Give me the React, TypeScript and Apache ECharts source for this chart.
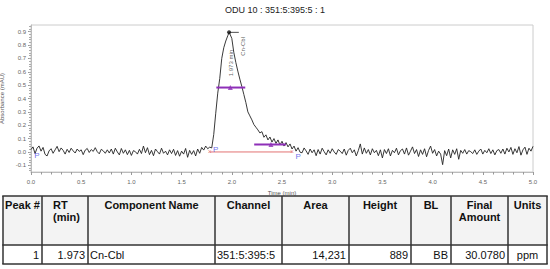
import React, { useEffect, useRef } from "react";
import * as echarts from "echarts";

// ---------- DATA ----------
const TITLE = "ODU 10 : 351:5:395:5 : 1";
const STEP = 0.02; // minutes between samples, starting at 0.0
const signal: number[] = [
  // 0.00 - 0.18
  0.018, 0.038, -0.012, 0.028, 0.045, 0.006, 0.034, -0.018, -0.03, 0.008,
  // 0.20 - 0.38
  0.024, -0.01, 0.016, 0.042, 0.002, 0.03, 0.012, -0.016, 0.02, -0.004,
  // 0.40 - 0.58
  0.028, 0.008, -0.008, 0.022, 0.004, 0.016, -0.02, 0.014, 0.026, -0.004,
  // 0.60 - 0.78
  0.018, 0.004, 0.032, 0.002, -0.014, 0.02, 0.008, -0.01, 0.016, -0.008,
  // 0.80 - 0.98
  0.022, -0.016, 0.028, 0.0, -0.022, 0.026, -0.01, 0.016, -0.02, 0.012,
  // 1.00 - 1.18
  -0.026, 0.01, 0.002, -0.016, 0.02, -0.012, 0.044, -0.006, 0.032, -0.02,
  // 1.20 - 1.38
  0.012, -0.028, 0.022, 0.002, -0.016, 0.028, -0.01, 0.006, -0.022, 0.016,
  // 1.40 - 1.58
  -0.012, 0.02, -0.026, 0.01, -0.032, 0.006, -0.016, 0.026, -0.04, 0.012,
  // 1.60 - 1.78
  -0.018, 0.01, -0.03, 0.022, -0.01, 0.034, 0.014, 0.044, 0.024, 0.036,
  // 1.80 - 1.98 (peak rise)
  0.03, 0.13, 0.29, 0.44, 0.55, 0.7, 0.78, 0.83, 0.87, 0.885,
  // 2.00 - 2.18
  0.85, 0.745, 0.67, 0.605, 0.545, 0.49, 0.43, 0.37, 0.3, 0.27,
  // 2.20 - 2.38
  0.24, 0.205, 0.185, 0.165, 0.142, 0.152, 0.11, 0.128, 0.09, 0.112,
  // 2.40 - 2.58
  0.074, 0.1, 0.064, 0.09, 0.052, 0.08, 0.044, 0.07, 0.038, 0.06,
  // 2.60 - 2.68
  0.022, 0.044, 0.006, 0.032, -0.002,
  // 2.70 - 2.88
  -0.006, 0.03, 0.008, -0.018, 0.022, -0.006, 0.016, -0.028, 0.018, -0.016,
  // 2.90 - 3.08
  0.028, 0.002, -0.022, 0.016, -0.01, 0.024, 0.0, -0.018, 0.018, 0.006,
  // 3.10 - 3.28
  -0.012, 0.022, -0.024, 0.012, 0.028, -0.006, 0.016, -0.03, 0.01, 0.06,
  // 3.30 - 3.48
  -0.016, 0.03, -0.01, 0.018, -0.022, 0.024, -0.006, 0.012, -0.028, 0.016,
  // 3.50 - 3.68
  -0.045, 0.018, -0.012, 0.024, -0.03, 0.012, -0.006, 0.028, -0.022, 0.01,
  // 3.70 - 3.88
  0.022, -0.016, 0.03, -0.024, 0.006, 0.038, -0.012, 0.018, -0.034, 0.016,
  // 3.90 - 4.08
  -0.018, 0.024, -0.036, 0.012, 0.044, -0.01, 0.018, -0.03, 0.006, -0.016,
  // 4.10 - 4.28
  -0.095, 0.01, -0.028, 0.022, -0.045, 0.016, -0.018, 0.024, -0.055, 0.012,
  // 4.30 - 4.48
  -0.01, 0.018, -0.016, 0.01, 0.002, -0.012, 0.016, -0.018, 0.006, 0.022,
  // 4.50 - 4.68
  -0.016, 0.012, -0.006, 0.024, -0.012, 0.016, -0.022, 0.01, 0.018, -0.01,
  // 4.70 - 4.88
  0.022, -0.016, 0.028, 0.0, 0.034, -0.018, 0.024, -0.006, 0.04, -0.024,
  // 4.90 - 5.00
  0.016, 0.036, -0.018, 0.028, 0.006, 0.042,
];
const apex: [number, number] = [1.973, 0.895];
const apexTick: [number, number][] = [[1.973, 0.895], [2.07, 0.895]];
const halfBar: [number, number][] = [[1.846, 0.482], [2.134, 0.482]];
const lowBar: [number, number][] = [[2.223, 0.056], [2.54, 0.056]];
const barMarks: [number, number][] = [[1.985, 0.482], [2.39, 0.056]];
const baseline: [number, number][] = [[1.78, 0.0], [2.6, 0.0]];
const pMarks: [number, number][] = [[0.06, -0.03], [1.84, 0.02], [2.66, -0.032]];
const xMarks: [number, number][] = [[1.78, 0.0], [2.6, 0.0]];
const rtLabelPos: [number, number] = [1.995, 0.665];
const nameLabelPos: [number, number] = [2.11, 0.79];
const rtLabel = "1.973 min";
const compLabel = "Cn-Cbl";

const yTickLabels = [-0.1, 0.0, 0.1, 0.2, 0.3, 0.4, 0.5, 0.6, 0.7, 0.8, 0.9];
const Y_MIN = -0.15;
const Y_MAX = 0.95;

const tableHeaders: string[][] = [
  ["Peak #"], ["RT", "(min)"], ["Component Name"], ["Channel"], ["Area"],
  ["Height"], ["BL"], ["Final", "Amount"], ["Units"],
];
const tableRow = ["1", "1.973", "Cn-Cbl", "351:5:395:5", "14,231", "889", "BB", "30.0780", "ppm"];

// ---------- LAYOUT ----------
const FONT = "'Liberation Sans', Arial, Helvetica, sans-serif";
const colX = [3, 42, 88, 215, 282, 349, 411, 451, 508, 547];
const rowY = [196, 245, 264];
const dataAlign = ["right", "right", "left", "left", "right", "right", "right", "right", "center"];

function buildTable(): any[] {
  const els: any[] = [];
  els.push({ type: "rect", shape: { x: colX[0], y: rowY[0], width: colX[9] - colX[0], height: rowY[1] - rowY[0] }, style: { fill: "#f3f3f3" }, z: 1 });
  els.push({ type: "rect", shape: { x: colX[0], y: rowY[1], width: colX[9] - colX[0], height: rowY[2] - rowY[1] }, style: { fill: "#ffffff" }, z: 1 });
  rowY.forEach((y) => {
    els.push({ type: "line", shape: { x1: colX[0] - 0.75, y1: y, x2: colX[9] + 0.75, y2: y }, style: { stroke: "#333", lineWidth: 1.5 }, z: 3 });
  });
  colX.forEach((x) => {
    els.push({ type: "line", shape: { x1: x, y1: rowY[0], x2: x, y2: rowY[2] }, style: { stroke: "#333", lineWidth: 1.5 }, z: 3 });
  });
  tableHeaders.forEach((lines, i) => {
    const left = colX[i];
    const right = colX[i + 1];
    lines.forEach((t, j) => {
      const isRT = i === 1;
      els.push({
        type: "text",
        z: 4,
        style: {
          text: t,
          x: isRT ? left + 11 : (left + right) / 2,
          y: 205 + j * 12.3,
          fontSize: 11,
          fontWeight: "bold",
          fontFamily: FONT,
          fill: "#111",
          align: isRT ? "left" : "center",
          verticalAlign: "middle",
        },
      });
    });
  });
  tableRow.forEach((t, i) => {
    const left = colX[i];
    const right = colX[i + 1];
    const a = dataAlign[i];
    const x = a === "right" ? right - 3 : a === "left" ? left + 2 : (left + right) / 2;
    els.push({
      type: "text",
      z: 4,
      style: { text: t, x, y: 254.5, fontSize: 11, fontFamily: FONT, fill: "#111", align: a, verticalAlign: "middle" },
    });
  });
  return els;
}

function buildOption(): any {
  const pts: [number, number][] = signal.map((v, i) => [Math.round(i * STEP * 100) / 100, v]);
  pts.push(apex);
  pts.sort((a, b) => a[0] - b[0]);

  const minorY: number[] = [];
  for (let k = -7; k <= 47; k++) minorY.push(Math.round(k * 2) / 100);

  const purple = "#8e2fb8";
  const labelScatter = (data: [number, number][], text: string, color: string, size: number, rotate = 0) => ({
    type: "scatter",
    data,
    symbolSize: 1,
    itemStyle: { color: "rgba(0,0,0,0)" },
    silent: true,
    z: 6,
    label: {
      show: true,
      position: "inside",
      formatter: text,
      color,
      fontSize: size,
      fontFamily: FONT,
      rotate,
      align: "center",
      verticalAlign: "middle",
    },
  });

  return {
    animation: false,
    backgroundColor: "#ffffff",
    textStyle: { fontFamily: FONT },
    title: {
      text: TITLE,
      left: "center",
      top: 5,
      padding: 0,
      textStyle: { fontSize: 9, fontWeight: "normal", color: "#222", fontFamily: FONT },
    },
    grid: {
      left: 31, right: 17, top: 25, bottom: 97,
      containLabel: false, outerBoundsMode: "none",
      show: true, borderColor: "#cccccc", borderWidth: 1,
    },
    xAxis: {
      type: "value",
      min: 0,
      max: 5,
      interval: 0.5,
      name: "Time (min)",
      nameLocation: "middle",
      nameGap: 15,
      nameTextStyle: { fontSize: 6, color: "#555", fontFamily: FONT },
      axisLine: { show: true, onZero: false, lineStyle: { color: "#bbbbbb", width: 1 } },
      axisTick: { show: true, length: 3, lineStyle: { color: "#999" } },
      minorTick: { show: true, splitNumber: 5, length: 2.5, lineStyle: { color: "#999" } },
      splitLine: { show: false },
      axisLabel: { fontSize: 6, color: "#666", margin: 7, formatter: (v: number) => v.toFixed(1) },
    },
    yAxis: [
      {
        type: "value",
        min: Y_MIN,
        max: Y_MAX,
        name: "Absorbance (mAU)",
        nameLocation: "middle",
        nameGap: 21,
        nameTextStyle: { fontSize: 6, color: "#555", fontFamily: FONT },
        axisLine: { show: true, onZero: false, lineStyle: { color: "#bbbbbb", width: 1 } },
        axisTick: { show: true, length: 3, customValues: yTickLabels, lineStyle: { color: "#999" } },
        splitLine: { show: false },
        axisLabel: { fontSize: 6, color: "#666", margin: 5, customValues: yTickLabels, formatter: (v: number) => v.toFixed(1) },
      },
      {
        type: "value",
        min: Y_MIN,
        max: Y_MAX,
        position: "left",
        axisLine: { show: false, onZero: false },
        axisTick: { show: true, length: 2, customValues: minorY, lineStyle: { color: "#aaa" } },
        axisLabel: { show: false },
        splitLine: { show: false },
      },
    ],
    graphic: buildTable(),
    series: [
      {
        type: "line",
        data: pts,
        symbol: "none",
        lineStyle: { color: "#222", width: 0.9 },
        z: 3,
      },
      {
        type: "line",
        data: baseline,
        symbol: "none",
        lineStyle: { color: "#e27272", width: 1 },
        z: 4,
      },
      {
        type: "line",
        data: halfBar,
        symbol: "none",
        lineStyle: { color: purple, width: 2 },
        z: 5,
      },
      {
        type: "line",
        data: lowBar,
        symbol: "none",
        lineStyle: { color: purple, width: 2 },
        z: 5,
      },
      {
        type: "scatter",
        data: barMarks,
        symbol: "triangle",
        symbolSize: 5,
        itemStyle: { color: purple },
        z: 6,
      },
      {
        type: "line",
        data: apexTick,
        symbol: "none",
        lineStyle: { color: "#222", width: 0.8 },
        z: 5,
      },
      {
        type: "scatter",
        data: [apex],
        symbol: "circle",
        symbolSize: 4,
        itemStyle: { color: "#111" },
        z: 6,
      },
      labelScatter([rtLabelPos], rtLabel, "#333", 6, 90),
      labelScatter([nameLabelPos], compLabel, "#333", 6, 90),
      labelScatter(pMarks, "P", "#4a4ae6", 8),
      labelScatter(xMarks, "×", "#e06666", 7),
    ],
  };
}

export default function App() {
  const ref = useRef<HTMLDivElement>(null);
  useEffect(() => {
    document.body.style.margin = "0";
    const chart = echarts.init(ref.current as HTMLDivElement, null, { renderer: "svg" });
    chart.setOption(buildOption());
    return () => chart.dispose();
  }, []);
  return <div ref={ref} style={{ width: 550, height: 269 }} />;
}
